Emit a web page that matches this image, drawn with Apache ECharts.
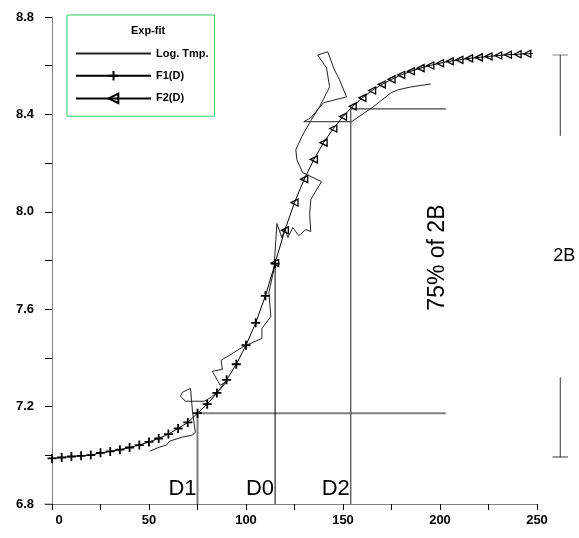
<!DOCTYPE html>
<html>
<head>
<meta charset="utf-8">
<title>Exp-fit</title>
<script src="https://cdn.jsdelivr.net/npm/echarts@6/dist/echarts.min.js"></script>
<style>
  html, body { margin: 0; padding: 0; background: #fff; }
  #chart { width: 579px; height: 538px; }
</style>
</head>
<body>
<div id="chart"></div>
<script>
// measured log temperature (wanders, so x is not monotonic)
const logD = [50.4, 55.5, 59.1, 60.6, 61.6, 67.3, 72.4, 73.9, 73.4, 72.4, 71.4, 67.3, 66.2, 68.8, 78.5,
  82.1, 86.2, 90.3, 86.7, 82.6, 87.8, 87.2, 99.0, 108.2, 108.2, 112.8, 111.8, 114.4, 115.4, 115.9,
  118.5, 120.0, 121.6, 124.1, 127.2, 130.8, 133.4, 132.8, 133.4, 138.9, 129.2, 126.2, 125.7, 128.7,
  133.4, 137.9, 143.1, 141.5, 136.9, 142.1, 145.6, 148.2, 151.8, 140.0, 133.4, 129.8, 154.4, 165.6,
  174.8, 178.4, 185.1, 195.3];
const logT = [7.017, 7.034, 7.042, 7.058, 7.062, 7.075, 7.083, 7.095, 7.120, 7.181, 7.275, 7.259, 7.243, 7.222, 7.222,
  7.239, 7.267, 7.304, 7.288, 7.345, 7.353, 7.390, 7.448, 7.480, 7.521, 7.570, 7.669, 7.763, 7.886, 7.952,
  7.894, 7.931, 7.894, 7.935, 7.902, 7.927, 7.919, 7.989, 8.050, 8.124, 8.161, 8.214, 8.255, 8.308,
  8.374, 8.431, 8.513, 8.591, 8.644, 8.657, 8.583, 8.542, 8.472, 8.448, 8.386, 8.370, 8.370, 8.431,
  8.489, 8.501, 8.513, 8.525];

// lower branch of the fit
const f1D = [0, 5, 10, 15, 20, 25, 30, 35, 40, 45, 50, 55, 60, 65, 70, 75, 80, 85, 90, 95, 100, 105, 110, 115];
const f1V = [6.987, 6.991, 6.995, 6.998, 7.001, 7.010, 7.016, 7.023, 7.032, 7.042, 7.055, 7.069, 7.087, 7.110,
  7.135, 7.173, 7.210, 7.256, 7.310, 7.374, 7.452, 7.544, 7.655, 7.787];

// upper branch of the fit
const f2D = [115, 120, 125, 130, 135, 140, 145, 150, 155, 160, 165, 170, 175, 180, 185, 190, 195, 200,
  205, 210, 215, 220, 225, 230, 235, 240, 245];
const f2V = [7.790, 7.924, 8.038, 8.134, 8.215, 8.284, 8.342, 8.391, 8.433, 8.468, 8.498, 8.523, 8.544,
  8.562, 8.577, 8.590, 8.601, 8.610, 8.618, 8.624, 8.630, 8.634, 8.638, 8.642, 8.645, 8.647, 8.649];
const f2TailD = 248;
const f2TailV = 8.65;

// construction lines
const dNames = ['D1', 'D0', 'D2'];
const dValues = [75, 115, 154];
const d0Top = 7.80;
const lowLevel = 7.173;
const highLevel = 8.423;
const levelEnd = 203;
const axisMinY = 6.8;

// 2B bracket on the right (outside the plot range)
const bracketD = 262;
const bracketCap = 4;
const bracketTop = 8.644;
const bracketTopEnd = 8.312;
const bracketBotStart = 7.32;
const bracketBot = 6.993;

const FONT = 'Arial, "Liberation Sans", sans-serif';

const chart = echarts.init(document.getElementById('chart'));

const pairs = (xs, ys) => xs.map((x, i) => [x, ys[i]]);

const plainLine = (data, color, width) => ({
  type: 'line',
  data: data,
  symbol: 'none',
  silent: true,
  z: 1,
  lineStyle: { color: color, width: width }
});

const f2Data = pairs(f2D, f2V);
f2Data.push({ value: [f2TailD, f2TailV], symbol: 'none' });

const labelStyle = { fontFamily: FONT, fontSize: 13, fontWeight: 'bold', color: '#000' };

const option = {
  animation: false,
  backgroundColor: '#fff',
  title: {
    text: 'Exp-fit',
    left: 131,
    top: 25,
    padding: 0,
    textStyle: { fontFamily: FONT, fontSize: 11, fontWeight: 'bold', color: '#000' }
  },
  legend: {
    data: [
      { name: 'Log. Tmp.', itemStyle: { opacity: 0 } },
      'F1(D)',
      'F2(D)'
    ],
    orient: 'vertical',
    left: 67,
    top: 15,
    padding: [33, 6, 12, 8],
    itemWidth: 75,
    itemHeight: 12,
    itemGap: 11,
    borderColor: '#33cc66',
    borderWidth: 1,
    textStyle: { fontFamily: FONT, fontSize: 11, fontWeight: 'bold', color: '#000' }
  },
  grid: { left: 52, right: 42, top: 17, bottom: 34 },
  xAxis: {
    type: 'value',
    min: 0,
    max: 250,
    interval: 25,
    axisLine: { lineStyle: { color: '#808080', width: 1 } },
    axisTick: { length: 6, lineStyle: { color: '#000' } },
    splitLine: { show: false },
    axisLabel: Object.assign({
      margin: 10,
      formatter: v => (v === 0 ? '{first|0}' : (v % 50 === 0 ? String(v) : '')),
      rich: { first: Object.assign({ padding: [0, 0, 0, 14] }, labelStyle) }
    }, labelStyle)
  },
  yAxis: {
    type: 'value',
    min: 6.8,
    max: 8.8,
    interval: 0.2,
    axisLine: { lineStyle: { color: '#808080', width: 1 } },
    axisTick: { length: 7, lineStyle: { color: '#000' } },
    splitLine: { show: false },
    axisLabel: Object.assign({
      margin: 18,
      formatter: v => (Math.round(v * 10) % 4 === 0 ? v.toFixed(1) : '')
    }, labelStyle)
  },
  series: [
    // D1 / lower level
    plainLine([[dValues[0], axisMinY], [dValues[0], lowLevel], [levelEnd, lowLevel]], '#7f7f7f', 2),
    // D0
    plainLine([[dValues[1], axisMinY], [dValues[1], d0Top]], '#000', 1),
    // D2 / upper level
    plainLine([[dValues[2], axisMinY], [dValues[2], highLevel], [levelEnd, highLevel]], '#444', 1.2),
    {
      name: 'Log. Tmp.',
      type: 'line',
      data: pairs(logD, logT),
      symbol: 'none',
      z: 2,
      color: '#222',
      lineStyle: { color: '#222', width: 1 }
    },
    {
      name: 'F1(D)',
      type: 'line',
      data: pairs(f1D, f1V),
      symbol: 'path://M0,5L10,5M5,0L5,10',
      symbolSize: 9,
      showAllSymbol: true,
      z: 3,
      color: '#000',
      lineStyle: { color: '#000', width: 1 },
      itemStyle: { color: '#000', borderColor: '#000', borderWidth: 1.8 }
    },
    {
      name: 'F2(D)',
      type: 'line',
      data: f2Data,
      symbol: 'triangle',
      symbolRotate: 90,
      symbolSize: 7,
      showAllSymbol: true,
      z: 3,
      color: '#000',
      lineStyle: { color: '#000', width: 1 },
      itemStyle: { color: 'transparent', borderColor: '#000', borderWidth: 1.3 }
    }
  ]
};

chart.setOption(option);

// annotations anchored to data positions
const toPx = (d, t) => chart.convertToPixel({ xAxisIndex: 0, yAxisIndex: 0 }, [d, t]);
const extra = [];

dNames.forEach((name, i) => {
  const p = toPx(dValues[i], 6.815);
  extra.push({
    type: 'text', x: p[0] - 1, y: p[1], z: 10,
    style: { text: name, fontFamily: FONT, fontSize: 22, fill: '#000', align: 'right', verticalAlign: 'bottom' }
  });
});

const p75 = toPx(198.9, 7.812);
extra.push({
  type: 'text', x: p75[0], y: p75[1], rotation: Math.PI / 2, z: 10,
  style: { text: '75% of 2B', fontFamily: FONT, fontSize: 23, fill: '#000', align: 'center', verticalAlign: 'middle' }
});

const p2b = toPx(264, 7.82);
extra.push({
  type: 'text', x: p2b[0], y: p2b[1], z: 10,
  style: { text: '2B', fontFamily: FONT, fontSize: 18, fill: '#000', align: 'center', verticalAlign: 'middle' }
});

// straight segments drawn outside the plot range
const seg = (d1, t1, d2, t2, color) => {
  const a = toPx(d1, t1);
  const b = toPx(d2, t2);
  return {
    type: 'line', z: 10, silent: true,
    shape: { x1: a[0], y1: a[1], x2: b[0], y2: b[1] },
    style: { stroke: color, lineWidth: 1 }
  };
};
extra.push(seg(bracketD - bracketCap, bracketTop, bracketD + bracketCap, bracketTop, '#808080'));
extra.push(seg(bracketD, bracketTop, bracketD, bracketTopEnd, '#333'));
extra.push(seg(bracketD, bracketBotStart, bracketD, bracketBot, '#333'));
extra.push(seg(bracketD - bracketCap, bracketBot, bracketD + bracketCap, bracketBot, '#333'));
// x axis line runs a little past the y axis
extra.push(seg(-4, axisMinY, 0, axisMinY, '#808080'));

chart.setOption({ graphic: extra });
</script>
</body>
</html>
